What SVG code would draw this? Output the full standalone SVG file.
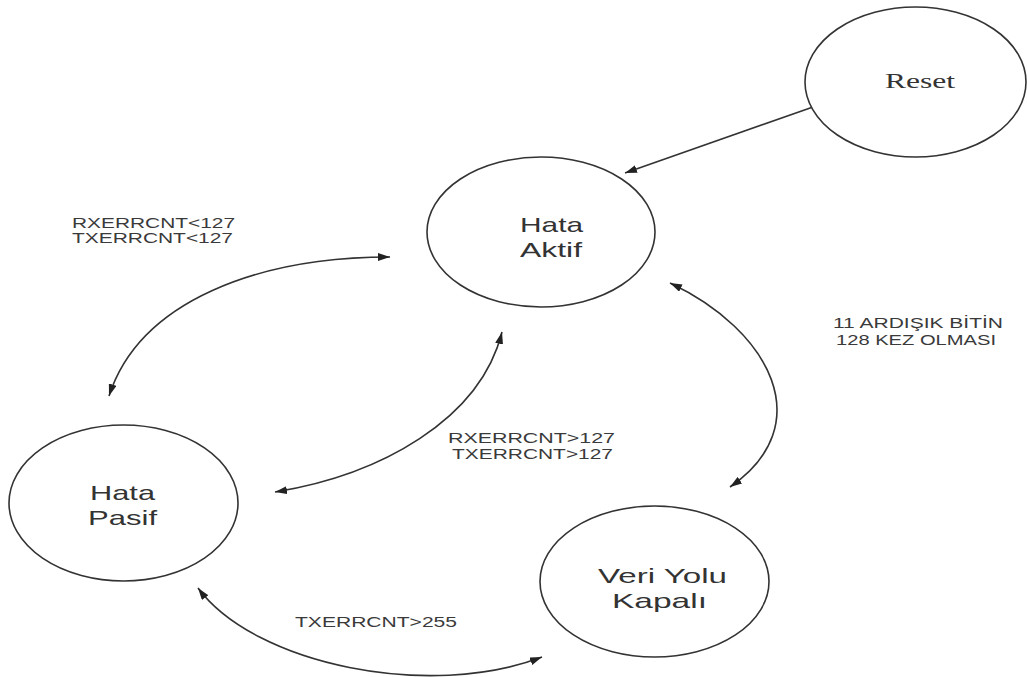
<svg xmlns="http://www.w3.org/2000/svg" width="1027" height="677" viewBox="0 0 1027 677">
  <style>
    .state { fill: #ffffff; stroke: #333333; stroke-width: 1.6; }
    .label { font-family: "Liberation Sans", Arial, sans-serif; fill: #333333; }
    .serif { font-family: "Liberation Serif", "Times New Roman", serif; fill: #333333; }
    .edge { fill: none; stroke: #333333; stroke-width: 1.6; }
    .cond { font-family: "Liberation Sans", Arial, sans-serif; font-size: 15px; fill: #3a3a3a; }
  </style>
  <defs>
    <marker id="head" viewBox="0 0 12 8" refX="12" refY="4" markerWidth="12" markerHeight="8" markerUnits="userSpaceOnUse" orient="auto-start-reverse">
      <path d="M0,0 L12,4 L0,8 Z" fill="#222222"/>
    </marker>
  </defs>
  <rect width="1027" height="677" fill="#ffffff"/>

  <!-- transitions between the error states -->
  <g id="connectors">
    <line class="edge" x1="813" y1="107" x2="625" y2="173" marker-end="url(#head)"/>
    <path class="edge" d="M109,396 C140,300 260,257 390,257" marker-start="url(#head)" marker-end="url(#head)"/>
    <path class="edge" d="M275,492 C380,475 480,420 502,332" marker-start="url(#head)" marker-end="url(#head)"/>
    <path class="edge" d="M670,283 C770,330 820,425 730,487" marker-start="url(#head)" marker-end="url(#head)"/>
    <path class="edge" d="M198,588 C255,665 430,700 542,657" marker-start="url(#head)" marker-end="url(#head)"/>
  </g>

  <!-- transition conditions -->
  <g id="conditions">
    <text class="cond" x="72" y="228" textLength="163" lengthAdjust="spacingAndGlyphs">RXERRCNT&lt;127</text>
    <text class="cond" x="72" y="243" textLength="161" lengthAdjust="spacingAndGlyphs">TXERRCNT&lt;127</text>
    <text class="cond" x="448" y="443" textLength="167" lengthAdjust="spacingAndGlyphs">RXERRCNT&gt;127</text>
    <text class="cond" x="452" y="459" textLength="161" lengthAdjust="spacingAndGlyphs">TXERRCNT&gt;127</text>
    <text class="cond" x="833" y="328" textLength="170" lengthAdjust="spacingAndGlyphs">11 ARDIŞIK BİTİN</text>
    <text class="cond" x="836" y="345" textLength="160" lengthAdjust="spacingAndGlyphs">128 KEZ OLMASI</text>
    <text class="cond" x="295" y="627" textLength="162" lengthAdjust="spacingAndGlyphs">TXERRCNT&gt;255</text>
  </g>

  <g id="reset">
    <ellipse class="state" cx="915.5" cy="82" rx="110.5" ry="75"/>
    <text class="serif" x="885" y="88" font-size="20" textLength="70" lengthAdjust="spacingAndGlyphs">Reset</text>
  </g>

  <g id="hata-aktif">
    <ellipse class="state" cx="541" cy="232" rx="114" ry="75"/>
    <text class="label" x="520" y="232" font-size="21" textLength="63" lengthAdjust="spacingAndGlyphs">Hata</text>
    <text class="label" x="520" y="257" font-size="21" textLength="62" lengthAdjust="spacingAndGlyphs">Aktif</text>
  </g>

  <g id="hata-pasif">
    <ellipse class="state" cx="123.5" cy="503" rx="114.5" ry="78"/>
    <text class="label" x="90" y="500" font-size="21" textLength="65" lengthAdjust="spacingAndGlyphs">Hata</text>
    <text class="label" x="88" y="525" font-size="21" textLength="69" lengthAdjust="spacingAndGlyphs">Pasif</text>
  </g>

  <g id="veri-yolu-kapali">
    <ellipse class="state" cx="654.5" cy="581.5" rx="114.5" ry="75.5"/>
    <text class="label" x="598" y="583" font-size="21" textLength="129" lengthAdjust="spacingAndGlyphs">Veri Yolu</text>
    <text class="label" x="612" y="608" font-size="21" textLength="95" lengthAdjust="spacingAndGlyphs">Kapalı</text>
  </g>
</svg>
